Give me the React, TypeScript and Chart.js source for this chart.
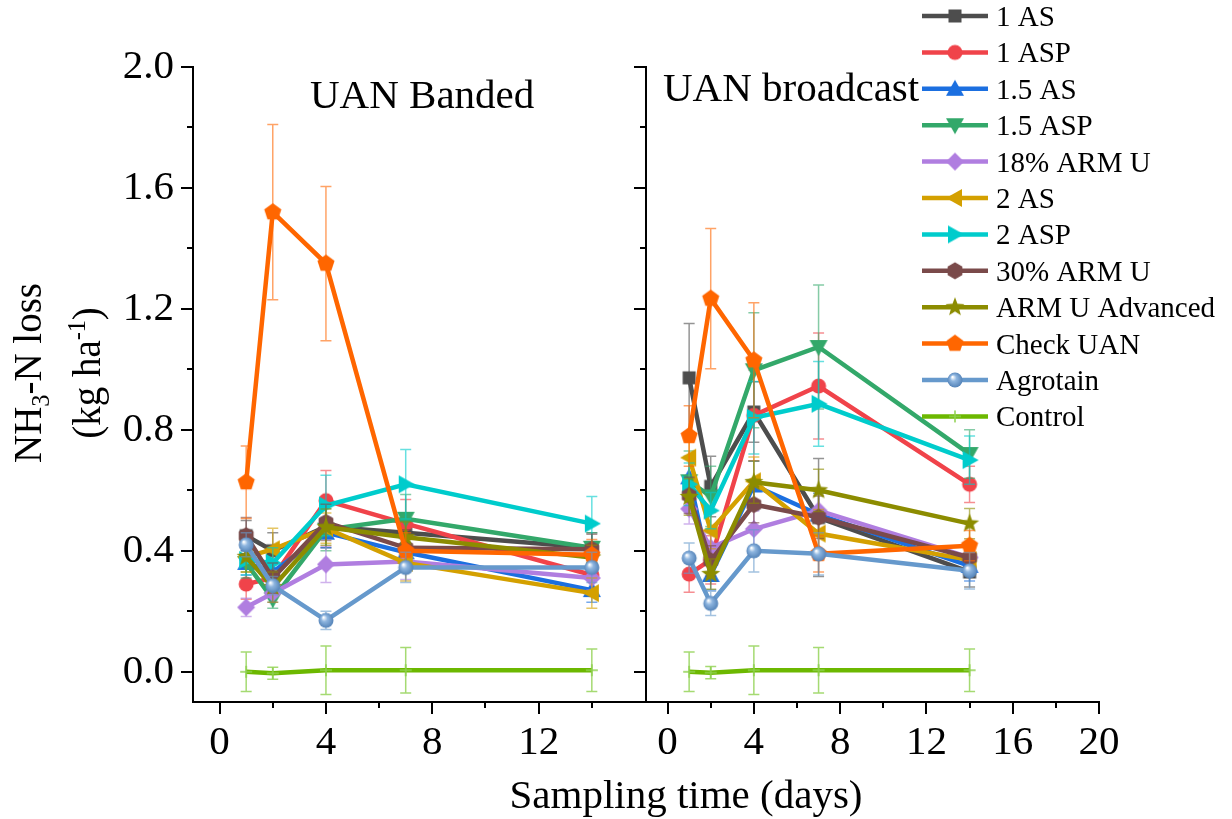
import React, { useEffect, useRef } from 'react';
import { Chart, registerables } from 'chart.js';

Chart.register(...registerables);

// ---------- data ----------
const DAYS = [1, 2, 4, 7, 14];

const SERIES_NAMES = [
  '1 AS', '1 ASP', '1.5 AS', '1.5 ASP', '18% ARM U', '2 AS', '2 ASP',
  '30% ARM U', 'ARM U Advanced', 'Check UAN', 'Agrotain', 'Control',
];

const LINE_COLORS = [
  '#4d4d4d', '#f0434a', '#1b6fe0', '#33a86a', '#b07ee0', '#d4a000', '#00cccc',
  '#7a4a4a', '#8c8c00', '#ff6600', '#6699cc', '#6cb800',
];

const ERROR_COLORS = [
  '#4d4d4d99', '#f0434a99', '#1b6fe099', '#33a86a99', '#b07ee099', '#d4a00099', '#00cccc99',
  '#7a4a4a99', '#8c8c0099', '#ff660099', '#6699cc99', '#8fd14fcc',
];

const MARKER_SHAPES = [
  'square', 'circle', 'triUp', 'triDown', 'diamond', 'triLeft', 'triRight',
  'hexagon', 'star', 'pentagon', 'sphere', 'plus',
];

const MARKER_COLORS = [
  '#4d4d4d', '#f0434a', '#1b6fe0', '#33a86a', '#b07ee0', '#d4a000', '#00cccc',
  '#7a4a4a', '#8c8c00', '#ff6600', '#6699cc', '#8fd14f',
];

// UAN Banded panel: mean per series at DAYS
const BANDED_MEANS = [
  [0.45, 0.40, 0.48, 0.46, 0.41],
  [0.29, 0.31, 0.566, 0.49, 0.32],
  [0.36, 0.33, 0.46, 0.395, 0.27],
  [0.36, 0.24, 0.47, 0.506, 0.41],
  [0.213, 0.26, 0.355, 0.365, 0.31],
  [0.38, 0.405, 0.475, 0.36, 0.26],
  [0.37, 0.36, 0.55, 0.62, 0.49],
  [0.45, 0.31, 0.494, 0.41, 0.405],
  [0.38, 0.28, 0.478, 0.445, 0.378],
  [0.627, 1.52, 1.35, 0.40, 0.387],
  [0.42, 0.285, 0.17, 0.345, 0.345],
  [0.0, -0.005, 0.005, 0.005, 0.005],
];
const BANDED_ERRORS = [
  [0.05, 0.06, 0.07, 0.06, 0.05],
  [0.05, 0.05, 0.10, 0.08, 0.05],
  [0.04, 0.04, 0.05, 0.05, 0.04],
  [0.05, 0.03, 0.07, 0.08, 0.05],
  [0.03, 0.03, 0.06, 0.06, 0.04],
  [0.05, 0.07, 0.05, 0.06, 0.05],
  [0.05, 0.05, 0.10, 0.115, 0.09],
  [0.06, 0.05, 0.06, 0.06, 0.05],
  [0.05, 0.05, 0.06, 0.05, 0.04],
  [0.12, 0.29, 0.255, 0.06, 0.05],
  [0.04, 0.03, 0.03, 0.05, 0.05],
  [0.065, 0.02, 0.08, 0.075, 0.07],
];

// UAN broadcast panel
const BROADCAST_MEANS = [
  [0.972, 0.613, 0.859, 0.51, 0.33],
  [0.323, 0.37, 0.848, 0.945, 0.62],
  [0.643, 0.32, 0.616, 0.52, 0.35],
  [0.63, 0.58, 0.997, 1.074, 0.72],
  [0.539, 0.41, 0.472, 0.533, 0.378],
  [0.708, 0.467, 0.63, 0.457, 0.37],
  [0.62, 0.533, 0.84, 0.886, 0.70],
  [0.583, 0.367, 0.553, 0.511, 0.378],
  [0.578, 0.323, 0.627, 0.60, 0.49],
  [0.78, 1.234, 1.03, 0.39, 0.417],
  [0.376, 0.226, 0.40, 0.39, 0.334],
  [0.0, -0.003, 0.005, 0.005, 0.005],
];
const BROADCAST_ERRORS = [
  [0.18, 0.10, 0.10, 0.195, 0.05],
  [0.06, 0.08, 0.15, 0.175, 0.06],
  [0.07, 0.05, 0.08, 0.07, 0.05],
  [0.10, 0.10, 0.19, 0.205, 0.08],
  [0.05, 0.05, 0.06, 0.07, 0.04],
  [0.08, 0.06, 0.08, 0.08, 0.04],
  [0.07, 0.06, 0.12, 0.14, 0.08],
  [0.06, 0.05, 0.06, 0.07, 0.04],
  [0.06, 0.05, 0.07, 0.07, 0.05],
  [0.10, 0.232, 0.19, 0.06, 0.05],
  [0.05, 0.04, 0.07, 0.07, 0.06],
  [0.065, 0.02, 0.08, 0.075, 0.07],
];

const X_TICKS_LEFT = [0, 2, 4, 6, 8, 10, 12, 14];
const X_TICKS_RIGHT = [0, 2, 4, 6, 8, 10, 12, 14, 16, 18, 20];
const Y_TICKS = [0, 0.2, 0.4, 0.6, 0.8, 1.0, 1.2, 1.4, 1.6, 1.8, 2.0];

const FONT = "'Liberation Serif', 'Times New Roman', serif";

// ---------- helpers ----------
function makeMarker(shape: string, color: string): HTMLCanvasElement {
  const S = 26;
  const c = document.createElement('canvas');
  c.width = S;
  c.height = S;
  const g = c.getContext('2d')!;
  const cx = S / 2;
  const cy = S / 2;
  const poly = (pts: number[][]) => {
    g.beginPath();
    pts.forEach(([x, y], k) => (k ? g.lineTo(cx + x, cy + y) : g.moveTo(cx + x, cy + y)));
    g.closePath();
    g.fill();
  };
  const regular = (n: number, r: number, start: number, inner = 0) => {
    const pts: number[][] = [];
    const steps = inner ? n * 2 : n;
    for (let k = 0; k < steps; k++) {
      const a = start + (k * 2 * Math.PI) / steps;
      const rr = inner && k % 2 ? inner : r;
      pts.push([rr * Math.cos(a), rr * Math.sin(a)]);
    }
    poly(pts);
  };
  g.fillStyle = color;
  switch (shape) {
    case 'square':
      g.fillRect(cx - 6.5, cy - 6.5, 13, 13);
      break;
    case 'circle':
      g.beginPath();
      g.arc(cx, cy, 7.5, 0, Math.PI * 2);
      g.fill();
      break;
    case 'triUp':
      poly([[0, -9], [9, 7], [-9, 7]]);
      break;
    case 'triDown':
      poly([[0, 9], [9, -7], [-9, -7]]);
      break;
    case 'triLeft':
      poly([[-9, 0], [7, -9], [7, 9]]);
      break;
    case 'triRight':
      poly([[9, 0], [-7, -9], [-7, 9]]);
      break;
    case 'diamond':
      poly([[0, -9], [9, 0], [0, 9], [-9, 0]]);
      break;
    case 'hexagon':
      regular(6, 8.5, -Math.PI / 2);
      break;
    case 'star':
      regular(5, 10, -Math.PI / 2, 4.2);
      break;
    case 'pentagon':
      regular(5, 9, -Math.PI / 2);
      break;
    case 'sphere': {
      const grad = g.createRadialGradient(cx - 2.5, cy - 3, 0.5, cx, cy, 8);
      grad.addColorStop(0, '#ffffff');
      grad.addColorStop(0.35, '#8fb6e0');
      grad.addColorStop(1, '#4f7fb5');
      g.fillStyle = grad;
      g.beginPath();
      g.arc(cx, cy, 7.5, 0, Math.PI * 2);
      g.fill();
      break;
    }
    case 'plus':
      g.strokeStyle = color;
      g.lineWidth = 1.5;
      g.beginPath();
      g.moveTo(cx - 6, cy);
      g.lineTo(cx + 6, cy);
      g.moveTo(cx, cy - 6);
      g.lineTo(cx, cy + 6);
      g.stroke();
      break;
    default:
      break;
  }
  return c;
}

const errorBarPlugin = {
  id: 'errorBars',
  beforeDatasetDraw(chart: any, args: any) {
    const ds = chart.data.datasets[args.index];
    const xs = chart.scales.x;
    const ys = chart.scales.y;
    const ctx = chart.ctx;
    ctx.save();
    ctx.strokeStyle = ds.errorColor;
    ctx.lineWidth = 1.5;
    ds.data.forEach((pt: any, k: number) => {
      const e = ds.errors[k];
      const px = xs.getPixelForValue(pt.x);
      const top = ys.getPixelForValue(pt.y + e);
      const bot = ys.getPixelForValue(pt.y - e);
      ctx.beginPath();
      ctx.moveTo(px, top);
      ctx.lineTo(px, bot);
      ctx.moveTo(px - 5.5, top);
      ctx.lineTo(px + 5.5, top);
      ctx.moveTo(px - 5.5, bot);
      ctx.lineTo(px + 5.5, bot);
      ctx.stroke();
    });
    ctx.restore();
  },
};

const tickMarkPlugin = {
  id: 'tickMarks',
  afterDraw(chart: any) {
    const ctx = chart.ctx;
    const xs = chart.scales.x;
    const ys = chart.scales.y;
    const area = chart.chartArea;
    ctx.save();
    ctx.strokeStyle = '#000';
    ctx.lineWidth = 2;
    xs.ticks.forEach((t: any) => {
      const px = Math.round(xs.getPixelForValue(t.value));
      const len = t.value % 4 === 0 ? 12 : 6;
      ctx.beginPath();
      ctx.moveTo(px, area.bottom);
      ctx.lineTo(px, area.bottom + len);
      ctx.stroke();
    });
    ys.ticks.forEach((t: any) => {
      const py = Math.round(ys.getPixelForValue(t.value));
      const r = t.value / 0.4;
      const major = Math.abs(r - Math.round(r)) < 1e-6;
      const len = major ? 12 : 6;
      ctx.beginPath();
      ctx.moveTo(area.left, py);
      ctx.lineTo(area.left - len, py);
      ctx.stroke();
    });
    ctx.restore();
  },
};

type Part = { t: string; s?: 'sub' | 'sup' };

function drawRotatedRich(ctx: CanvasRenderingContext2D, parts: Part[], baseX: number, centerY: number, size: number) {
  const small = size * 0.62;
  const fontFor = (p: Part) => `${p.s ? small : size}px ${FONT}`;
  let total = 0;
  parts.forEach((p) => {
    ctx.font = fontFor(p);
    total += ctx.measureText(p.t).width;
  });
  ctx.save();
  ctx.translate(baseX, centerY);
  ctx.rotate(-Math.PI / 2);
  ctx.fillStyle = '#000';
  ctx.textBaseline = 'alphabetic';
  ctx.textAlign = 'left';
  let x = -total / 2;
  parts.forEach((p) => {
    ctx.font = fontFor(p);
    const dy = p.s === 'sub' ? size * 0.2 : p.s === 'sup' ? -size * 0.38 : 0;
    ctx.fillText(p.t, x, dy);
    x += ctx.measureText(p.t).width;
  });
  ctx.restore();
}

function makeTextPlugin(isLeft: boolean, markers: HTMLCanvasElement[]) {
  return {
    id: 'panelText',
    afterDraw(chart: any) {
      const ctx: CanvasRenderingContext2D = chart.ctx;
      ctx.save();
      ctx.fillStyle = '#000';
      ctx.textBaseline = 'alphabetic';
      ctx.font = `41px ${FONT}`;
      if (isLeft) {
        ctx.textAlign = 'left';
        ctx.fillText('UAN Banded', 310, 108);
        ctx.textAlign = 'center';
        ctx.fillText('Sampling time (days)', 686, 808);
        drawRotatedRich(ctx, [{ t: 'NH' }, { t: '3', s: 'sub' }, { t: '-N loss' }], 41, 373, 39);
        drawRotatedRich(ctx, [{ t: '(kg ha' }, { t: '-1', s: 'sup' }, { t: ')' }], 100, 373, 39);
      } else {
        ctx.textAlign = 'left';
        ctx.fillText('UAN broadcast', 663, 101);
        // legend
        ctx.font = `29px ${FONT}`;
        SERIES_NAMES.forEach((name, i) => {
          const y = 16 + 36.4 * i;
          ctx.strokeStyle = LINE_COLORS[i];
          ctx.lineWidth = 4.5;
          ctx.beginPath();
          ctx.moveTo(922, y);
          ctx.lineTo(988, y);
          ctx.stroke();
          const m = markers[i];
          ctx.drawImage(m, 955 - m.width / 2, y - m.height / 2);
          ctx.fillStyle = '#000';
          ctx.fillText(name, 996, y + 10);
        });
      }
      ctx.restore();
    },
  };
}

function buildConfig(isLeft: boolean, markers: HTMLCanvasElement[]): any {
  const means = isLeft ? BANDED_MEANS : BROADCAST_MEANS;
  const errs = isLeft ? BANDED_ERRORS : BROADCAST_ERRORS;
  const n = SERIES_NAMES.length;
  const datasets = SERIES_NAMES.map((name, i) => ({
    label: name,
    data: DAYS.map((d, k) => ({ x: d, y: means[i][k] })),
    errors: errs[i],
    errorColor: ERROR_COLORS[i],
    borderColor: LINE_COLORS[i],
    backgroundColor: LINE_COLORS[i],
    borderWidth: 4.5,
    pointStyle: markers[i],
    pointRadius: 8,
    pointHoverRadius: 8,
    tension: 0,
    order: n - i,
    clip: false,
  }));
  const tickFont = { family: FONT, size: 41 };
  return {
    type: 'line',
    data: { datasets },
    options: {
      responsive: false,
      animation: false,
      events: [],
      layout: {
        padding: { left: 0, right: isLeft ? 1232 - 645 : 1232 - 1099, top: 67, bottom: 0 },
      },
      plugins: {
        legend: { display: false },
        tooltip: { enabled: false },
        title: { display: false },
      },
      scales: {
        x: {
          type: 'linear',
          min: -1,
          max: isLeft ? 16 : 20,
          afterBuildTicks: (s: any) => {
            s.ticks = (isLeft ? X_TICKS_LEFT : X_TICKS_RIGHT).map((v) => ({ value: v }));
          },
          afterFit: (s: any) => {
            s.height = 819 - 702;
          },
          grid: { display: false, drawTicks: true, tickLength: 12 },
          border: { display: true, color: '#000', width: 2 },
          ticks: {
            font: tickFont,
            color: '#000',
            padding: 5,
            maxRotation: 0,
            minRotation: 0,
            autoSkip: false,
            callback: (v: any) => (Number(v) % 4 === 0 ? String(v) : ''),
          },
        },
        y: {
          type: 'linear',
          min: -0.1,
          max: 2.0,
          afterBuildTicks: (s: any) => {
            s.ticks = Y_TICKS.map((v) => ({ value: v }));
          },
          afterFit: (s: any) => {
            s.width = isLeft ? 193 : 646;
          },
          grid: { display: false, drawTicks: true, tickLength: 12 },
          border: { display: true, color: '#000', width: 2 },
          ticks: {
            display: isLeft,
            font: tickFont,
            color: '#000',
            padding: 7,
            autoSkip: false,
            callback: (v: any) => {
              const r = Number(v) / 0.4;
              return Math.abs(r - Math.round(r)) < 1e-6 ? Number(v).toFixed(1) : '';
            },
          },
        },
      },
    },
    plugins: [errorBarPlugin, tickMarkPlugin, makeTextPlugin(isLeft, markers)],
  };
}

export default function App() {
  const leftRef = useRef<HTMLCanvasElement>(null);
  const rightRef = useRef<HTMLCanvasElement>(null);

  useEffect(() => {
    document.body.style.margin = '0';
    const markers = MARKER_SHAPES.map((s, i) => makeMarker(s, MARKER_COLORS[i]));
    const left = new Chart(leftRef.current!, buildConfig(true, markers));
    const right = new Chart(rightRef.current!, buildConfig(false, markers));
    return () => {
      left.destroy();
      right.destroy();
    };
  }, []);

  return (
    <div style={{ position: 'fixed', left: 0, top: 0, width: 1232, height: 819, background: '#fff' }}>
      <canvas ref={leftRef} width={1232} height={819} style={{ position: 'absolute', left: 0, top: 0 }} />
      <canvas ref={rightRef} width={1232} height={819} style={{ position: 'absolute', left: 0, top: 0 }} />
    </div>
  );
}
